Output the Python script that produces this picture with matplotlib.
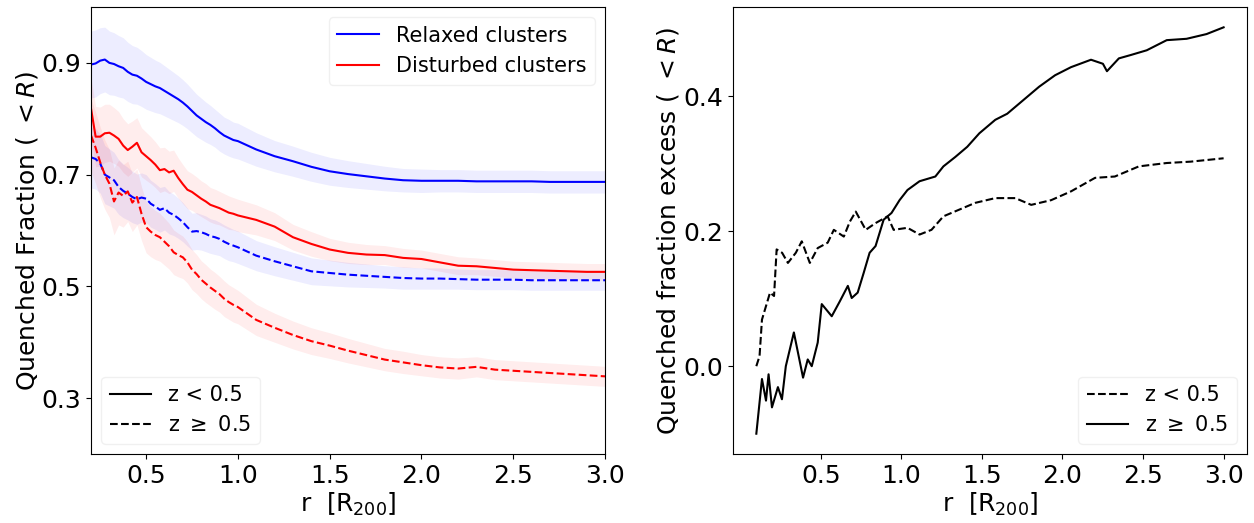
import matplotlib
matplotlib.use("Agg")
import matplotlib.pyplot as plt

# radial grid for the cumulative quenched fractions
r_grid = [0.200, 0.225, 0.250, 0.275, 0.300, 0.325, 0.350, 0.375, 0.400, 0.425,
          0.450, 0.475, 0.500, 0.525, 0.550, 0.575, 0.600, 0.625, 0.650, 0.675,
          0.700, 0.725, 0.750, 0.775, 0.800, 0.825, 0.850, 0.875, 0.900, 0.925,
          0.950, 0.975, 1.000,
          1.1, 1.2, 1.3, 1.4, 1.5, 1.6, 1.7, 1.8, 1.9, 2.0,
          2.1, 2.2, 2.3, 2.4, 2.5, 2.6, 2.7, 2.8, 2.9, 3.0]

relaxed_lowz = [0.897, 0.899, 0.904, 0.906, 0.900, 0.898, 0.894, 0.891, 0.884, 0.879,
                0.877, 0.872, 0.866, 0.862, 0.858, 0.855, 0.850, 0.845, 0.840, 0.835,
                0.829, 0.822, 0.814, 0.806, 0.800, 0.794, 0.789, 0.783, 0.776, 0.770,
                0.766, 0.762, 0.760,
                0.745, 0.733, 0.724, 0.714, 0.706, 0.701, 0.697, 0.693, 0.690, 0.689,
                0.689, 0.689, 0.688, 0.688, 0.688, 0.688, 0.687, 0.687, 0.687, 0.687]
relaxed_lowz_err = [0.060, 0.060, 0.059, 0.058, 0.057, 0.056, 0.055, 0.054, 0.053, 0.052,
                    0.051, 0.050, 0.049, 0.048, 0.047, 0.046, 0.045, 0.044, 0.043, 0.042,
                    0.041, 0.040, 0.039, 0.038, 0.037, 0.036, 0.035, 0.034, 0.034, 0.033,
                    0.033, 0.032, 0.032,
                    0.030, 0.028, 0.027, 0.026, 0.025, 0.024, 0.023, 0.022, 0.021, 0.021,
                    0.020, 0.020, 0.020, 0.020, 0.020, 0.020, 0.020, 0.020, 0.020, 0.020]

disturbed_lowz = [0.818, 0.768, 0.768, 0.774, 0.775, 0.770, 0.764, 0.752, 0.744, 0.750,
                  0.757, 0.740, 0.733, 0.726, 0.718, 0.708, 0.710, 0.704, 0.707, 0.694,
                  0.683, 0.673, 0.669, 0.663, 0.657, 0.652, 0.646, 0.643, 0.640, 0.636,
                  0.632, 0.630, 0.627,
                  0.619, 0.607, 0.588, 0.576, 0.566, 0.560, 0.557, 0.556, 0.551, 0.549,
                  0.543, 0.537, 0.536, 0.533, 0.530, 0.529, 0.528, 0.527, 0.526, 0.526]
disturbed_lowz_err = [0.055, 0.054, 0.053, 0.052, 0.051, 0.050, 0.049, 0.048, 0.047, 0.046,
                      0.045, 0.044, 0.043, 0.042, 0.041, 0.040, 0.039, 0.038, 0.037, 0.036,
                      0.035, 0.034, 0.033, 0.033, 0.032, 0.032, 0.031, 0.031, 0.030, 0.030,
                      0.030, 0.029, 0.029,
                      0.027, 0.025, 0.023, 0.022, 0.020, 0.019, 0.018, 0.017, 0.017, 0.016,
                      0.016, 0.016, 0.015, 0.015, 0.015, 0.015, 0.015, 0.015, 0.015, 0.015]

relaxed_highz = [0.731, 0.728, 0.720, 0.700, 0.695, 0.690, 0.678, 0.671, 0.666, 0.660,
                 0.656, 0.659, 0.657, 0.648, 0.643, 0.637, 0.640, 0.632, 0.628, 0.622,
                 0.615, 0.606, 0.598, 0.599, 0.597, 0.594, 0.590, 0.588, 0.585, 0.580,
                 0.576, 0.573, 0.570,
                 0.555, 0.545, 0.536, 0.527, 0.524, 0.521, 0.519, 0.517, 0.515, 0.514,
                 0.514, 0.513, 0.512, 0.512, 0.512, 0.511, 0.511, 0.511, 0.511, 0.511]
relaxed_highz_err = [0.055, 0.054, 0.053, 0.052, 0.051, 0.050, 0.049, 0.048, 0.047, 0.046,
                     0.045, 0.044, 0.043, 0.042, 0.041, 0.040, 0.039, 0.038, 0.037, 0.036,
                     0.035, 0.034, 0.033, 0.033, 0.032, 0.032, 0.031, 0.031, 0.030, 0.030,
                     0.030, 0.029, 0.029,
                     0.027, 0.026, 0.025, 0.024, 0.023, 0.022, 0.021, 0.020, 0.020, 0.019,
                     0.019, 0.018, 0.018, 0.018, 0.018, 0.018, 0.018, 0.018, 0.018, 0.018]

disturbed_highz = [0.770, 0.748, 0.722, 0.700, 0.684, 0.652, 0.668, 0.662, 0.670, 0.650,
                   0.660, 0.630, 0.606, 0.598, 0.592, 0.588, 0.580, 0.572, 0.561, 0.556,
                   0.552, 0.543, 0.530, 0.522, 0.512, 0.505, 0.498, 0.492, 0.486, 0.478,
                   0.472, 0.467, 0.463,
                   0.440, 0.426, 0.413, 0.402, 0.394, 0.385, 0.377, 0.369, 0.364, 0.359,
                   0.355, 0.353, 0.356, 0.351, 0.349, 0.347, 0.345, 0.343, 0.341, 0.339]
disturbed_highz_err = [0.065, 0.064, 0.063, 0.062, 0.061, 0.060, 0.058, 0.056, 0.054, 0.052,
                       0.050, 0.048, 0.046, 0.045, 0.044, 0.043, 0.042, 0.041, 0.040, 0.039,
                       0.038, 0.037, 0.036, 0.035, 0.034, 0.034, 0.033, 0.033, 0.032, 0.032,
                       0.031, 0.031, 0.030,
                       0.028, 0.026, 0.025, 0.024, 0.023, 0.022, 0.021, 0.020, 0.020, 0.019,
                       0.019, 0.019, 0.018, 0.018, 0.018, 0.018, 0.018, 0.018, 0.018, 0.018]

# quenched fraction excess (relaxed minus disturbed)
excess_lowz_r = [0.10, 0.12, 0.135, 0.16, 0.185, 0.21, 0.226, 0.26, 0.296, 0.345,
                 0.382, 0.432, 0.481, 0.543, 0.581, 0.643, 0.68, 0.717, 0.779, 0.84,
                 0.915, 0.952, 1.038, 1.113, 1.187, 1.261, 1.36, 1.459, 1.583, 1.707,
                 1.806, 1.93, 2.053, 2.202, 2.325, 2.474, 2.647, 2.795, 3.0]
excess_lowz = [0.000, 0.015, 0.069, 0.089, 0.109, 0.104, 0.173, 0.168, 0.153, 0.168,
               0.185, 0.153, 0.175, 0.183, 0.202, 0.192, 0.214, 0.229, 0.202, 0.212,
               0.222, 0.202, 0.205, 0.195, 0.202, 0.222, 0.232, 0.242, 0.249, 0.249,
               0.239, 0.246, 0.259, 0.279, 0.281, 0.296, 0.301, 0.303, 0.308]

excess_highz_r = [0.10, 0.135, 0.16, 0.176, 0.197, 0.234, 0.259, 0.283, 0.333, 0.39,
                  0.419, 0.444, 0.481, 0.506, 0.568, 0.618, 0.668, 0.692, 0.729, 0.766,
                  0.803, 0.84, 0.89, 0.939, 0.989, 1.038, 1.113, 1.211, 1.261, 1.335,
                  1.409, 1.484, 1.583, 1.657, 1.756, 1.855, 1.954, 2.053, 2.177, 2.251,
                  2.276, 2.35, 2.424, 2.523, 2.647, 2.77, 2.894, 3.0]
excess_highz = [-0.100, -0.019, -0.051, -0.012, -0.061, -0.031, -0.049, 0.000, 0.050, -0.017,
                0.010, 0.000, 0.035, 0.092, 0.074, 0.096, 0.119, 0.101, 0.109, 0.138,
                0.168, 0.178, 0.217, 0.227, 0.246, 0.261, 0.274, 0.281, 0.296, 0.310,
                0.325, 0.345, 0.365, 0.374, 0.394, 0.414, 0.431, 0.443, 0.454, 0.448,
                0.437, 0.456, 0.461, 0.468, 0.483, 0.485, 0.492, 0.502]

fig = plt.figure(figsize=(12.54, 5.23), dpi=100)
ax1 = fig.add_axes([0.0726, 0.1319, 0.4099, 0.8547])
ax2 = fig.add_axes([0.5845, 0.1319, 0.4099, 0.8547])

# Panel izquierdo: fracción acumulada con bandas de error
series = [
    (relaxed_lowz, relaxed_lowz_err, 'blue', '-'),
    (disturbed_lowz, disturbed_lowz_err, 'red', '-'),
    (relaxed_highz, relaxed_highz_err, 'blue', '--'),
    (disturbed_highz, disturbed_highz_err, 'red', '--'),
]
for vals, err, col, ls in series:
    lo = [v - e for v, e in zip(vals, err)]
    hi = [v + e for v, e in zip(vals, err)]
    ax1.fill_between(r_grid, lo, hi, color=col, alpha=0.07, lw=0)
    ax1.plot(r_grid, vals, color=col, ls=ls, lw=1.5)

ax1.set_xlim(0.2, 3.0)
ax1.set_ylim(0.2, 1.0)
ax1.set_yticks([0.3, 0.5, 0.7, 0.9])
ax1.set_xticks([0.5, 1.0, 1.5, 2.0, 2.5, 3.0])
ax1.tick_params(labelsize=18)
ax1.set_xlabel(r'r  [R$_{200}$]', fontsize=18, labelpad=2)
ax1.set_ylabel(r'Quenched Fraction ( $<R$)', fontsize=18, labelpad=1)

legend_kw = dict(fontsize=15, framealpha=0.8, edgecolor='0.93')

h_rel, = ax1.plot([], [], color='blue', lw=1.5)
h_dis, = ax1.plot([], [], color='red', lw=1.5)
leg1 = ax1.legend([h_rel, h_dis], ['Relaxed clusters', 'Disturbed clusters'],
                  loc='upper right', **legend_kw)
ax1.add_artist(leg1)
h_lo, = ax1.plot([], [], color='black', ls='-', lw=1.5)
h_hi, = ax1.plot([], [], color='black', ls='--', lw=1.5)
ax1.legend([h_lo, h_hi], [r'z < 0.5', r'z $\geq$ 0.5'], loc='lower left', **legend_kw)

# Panel derecho: exceso de fracción quenched
ax2.plot(excess_lowz_r, excess_lowz, color='black', ls='--', lw=1.5, label=r'z < 0.5')
ax2.plot(excess_highz_r, excess_highz, color='black', ls='-', lw=1.5, label=r'z $\geq$ 0.5')
ax2.set_xticks([0.5, 1.0, 1.5, 2.0, 2.5, 3.0])
ax2.set_yticks([0.0, 0.2, 0.4])
ax2.tick_params(labelsize=18)
ax2.set_xlabel(r'r  [R$_{200}$]', fontsize=18, labelpad=2)
ax2.set_ylabel(r'Quenched fraction excess ( $<R$)', fontsize=18, labelpad=2)
ax2.legend(loc='lower right', **legend_kw)

fig.savefig('out.png', dpi=100)
